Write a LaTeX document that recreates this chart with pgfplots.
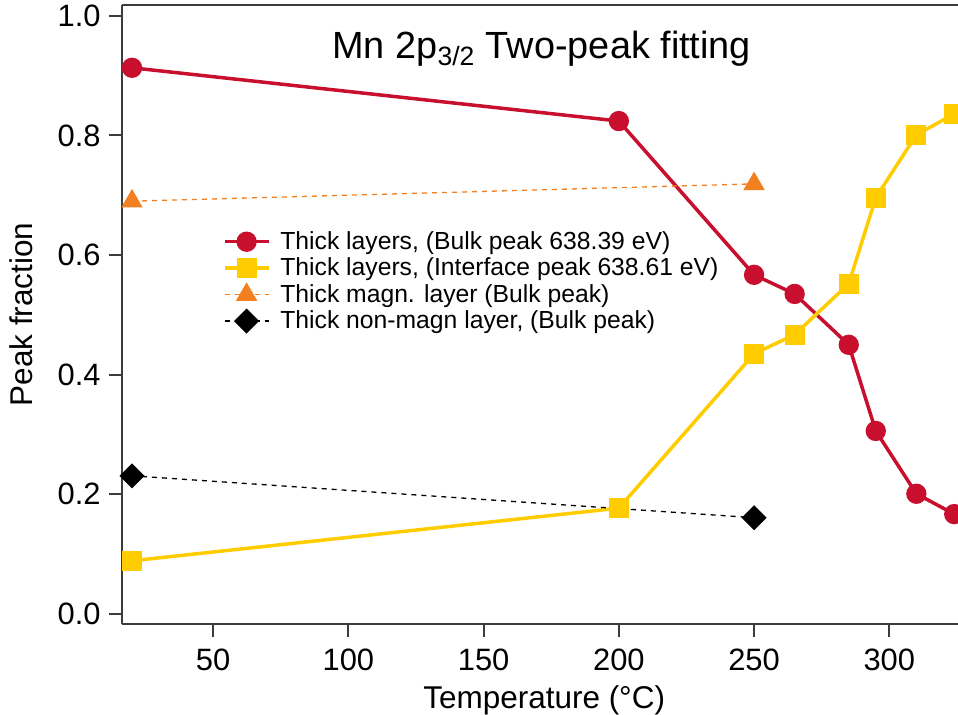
\documentclass[border=0pt]{standalone}
\usepackage{fontspec}
\setmainfont{Liberation Sans}
\usepackage{pgfplots}
\pgfplotsset{compat=1.18}
\definecolor{cred}{RGB}{200,16,46}
\definecolor{cyel}{RGB}{255,204,0}
\definecolor{corg}{RGB}{242,128,32}
\definecolor{spine}{RGB}{60,60,60}
\begin{document}
\begin{tikzpicture}
\begin{axis}[
  scale only axis,
  width=418bp, height=309.5bp,
  xmin=16.3, xmax=325.4,
  ymin=-0.0167, ymax=1.018,
  axis lines*=left,
  axis line style={spine, line width=1bp},
  every tick/.style={spine, line width=1bp},
  tick align=outside,
  major tick length=6.5bp,
  xtick={50,100,150,200,250,300},
  ytick={0,0.2,0.4,0.6,0.8,1.0},
  yticklabel style={/pgf/number format/fixed, /pgf/number format/fixed zerofill, /pgf/number format/precision=1},
  /pgf/number format/assume math mode=true,
  tick label style={font=\fontsize{15.5}{18}\selectfont},
  yticklabel style={inner sep=0pt, xshift=-4bp},
  xticklabel style={inner sep=0pt, yshift=-6bp},
  xlabel={Temperature (°C)},
  ylabel={Peak fraction},
  label style={font=\fontsize{15.8}{18}\selectfont},
  xlabel style={at={(axis description cs:0.505,-0.1357)}, anchor=base},
  ylabel style={at={(axis description cs:-0.1065,0.5)}, anchor=base},
  legend style={draw=none, fill=none, at={(axis description cs:0.113,0.648)}, anchor=north west,
    font=\fontsize{12.4}{14}\selectfont, row sep=-1.2bp, column sep=3bp},
  legend cell align=left,
  legend image code/.code={\draw[#1] (0bp,0bp) -- (11bp,0bp) -- (22bp,0bp);
     \draw[#1,solid] plot coordinates {(11bp,0bp)};},
]
\addplot[cred, line width=1.75bp, mark=*, mark size=4.2bp] coordinates {
 (20,0.913) (200,0.824) (250,0.567) (265,0.535) (285,0.450) (295,0.306) (310,0.201) (324,0.167)};
\addlegendentry{Thick layers, (Bulk peak 638.39 eV)}
\addplot[cyel, line width=1.75bp, mark=square*, mark size=4.1bp] coordinates {
 (20,0.089) (200,0.177) (250,0.435) (265,0.467) (285,0.552) (295,0.696) (310,0.801) (324,0.836)};
\addlegendentry{Thick layers, (Interface peak 638.61 eV)}
\addplot[corg, line width=0.65bp, dash pattern=on 2.5bp off 2.5bp, mark=triangle*, mark size=5.5bp, mark options={solid}] coordinates {
 (20,0.690) (250,0.719)};
\addlegendentry{Thick magn. layer (Bulk peak)}
\addplot[black, line width=0.65bp, dash pattern=on 2.5bp off 2.5bp, mark=square*, mark size=4.1bp, mark options={solid, rotate=45}] coordinates {
 (20,0.231) (250,0.161)};
\addlegendentry{Thick non-magn layer, (Bulk peak)}
\node[font=\fontsize{19}{22}\selectfont, anchor=base] at (axis description cs:0.502,0.914) {Mn 2p\textsubscript{3/2} Two-peak fitting};
\end{axis}
\draw[spine, line width=1bp] (current axis.north west) -- (current axis.north east);
\pgfresetboundingbox
\path ([xshift=-61bp,yshift=-45.5bp]current axis.south west) rectangle ([yshift=2.5bp]current axis.north east);
\end{tikzpicture}
\end{document}
